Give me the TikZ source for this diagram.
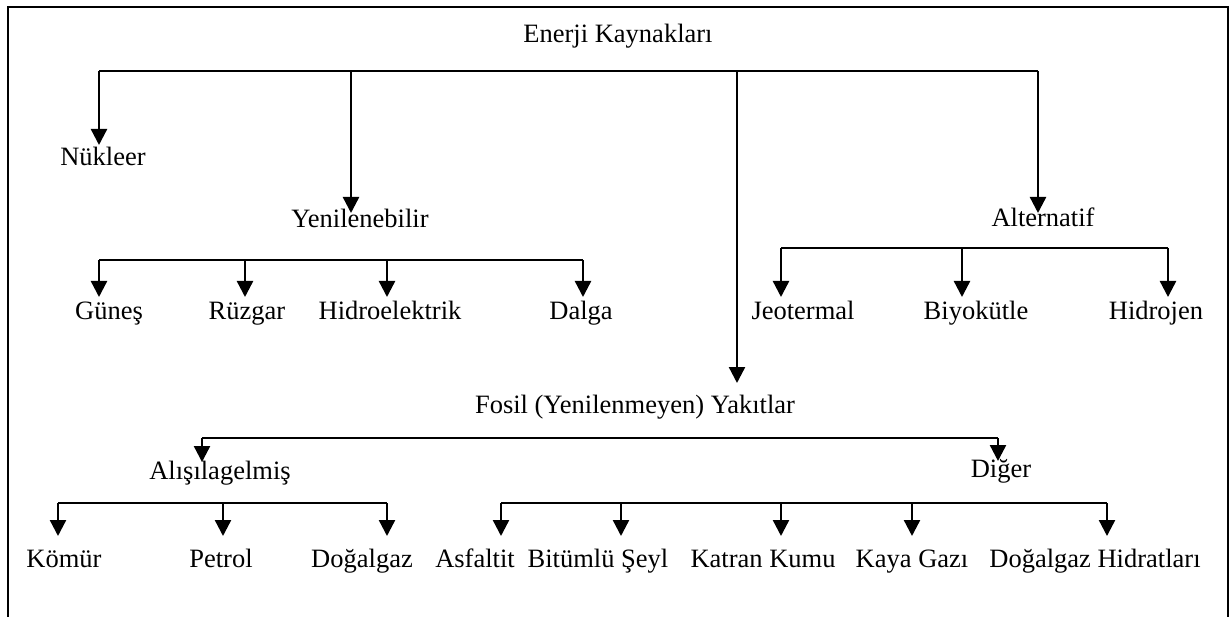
\documentclass[tikz,border=0pt]{standalone}
\usepackage{fontspec}
\setmainfont{Liberation Serif}
\usetikzlibrary{arrows.meta}
\begin{document}
\begin{tikzpicture}[x=1pt,y=-1pt,
  lbl/.style={anchor=base,inner sep=0pt,font=\fontsize{26.5}{30}\selectfont},
  link/.style={line width=2.4pt},
  arr/.style={line width=2.4pt,-{Triangle[length=16pt,width=16pt]}}]
\useasboundingbox (0,0) rectangle (1231,617);
% frame
\draw[line width=2.4pt] (8,617) -- (8,7) -- (1228,7) -- (1228,617);
% labels
\node[lbl] (root) at (618,43) {Enerji Kaynakları};
\node[lbl] (nuk) at (103,166) {Nükleer};
\node[lbl] (yen) at (360,228) {Yenilenebilir};
\node[lbl] (alt) at (1043,227) {Alternatif};
\node[lbl] (fos) at (635,413) {Fosil (Yenilenmeyen) Yakıtlar};
\node[lbl] (gun) at (109,320) {Güneş};
\node[lbl] (ruz) at (247,320) {Rüzgar};
\node[lbl] (hid) at (390,320) {Hidroelektrik};
\node[lbl] (dal) at (581,320) {Dalga};
\node[lbl] (jeo) at (803,320) {Jeotermal};
\node[lbl] (biy) at (976,320) {Biyokütle};
\node[lbl] (hij) at (1156,320) {Hidrojen};
\node[lbl] (ali) at (220,479) {Alışılagelmiş};
\node[lbl] (dig) at (1001,477) {Diğer};
\node[lbl] (kom) at (64,567) {Kömür};
\node[lbl] (pet) at (221,567) {Petrol};
\node[lbl] (dog) at (362,567) {Doğalgaz};
\node[lbl] (asf) at (475,567) {Asfaltit};
\node[lbl] (bit) at (598,567) {Bitümlü Şeyl};
\node[lbl] (kat) at (763,567) {Katran Kumu};
\node[lbl] (kay) at (912,567) {Kaya Gazı};
\node[lbl] (dgh) at (1095,567) {Doğalgaz Hidratları};
% bars
\coordinate (b1l) at (99,71);  \coordinate (b1r) at (1038,71);
\coordinate (b2l) at (99,260); \coordinate (b2r) at (583,260);
\coordinate (b3l) at (781,248); \coordinate (b3r) at (1168,248);
\coordinate (b4l) at (202,438); \coordinate (b4r) at (998,438);
\coordinate (b5l) at (58,503); \coordinate (b5r) at (387,503);
\coordinate (b6l) at (501,503); \coordinate (b6r) at (1107,503);
\foreach \b in {1,...,6} \draw[link] (b\b l) -- (b\b r);
% arrow tips
\coordinate (tnuk) at (99,145);
\coordinate (tyen) at (351,213);
\coordinate (tfos) at (737,383);
\coordinate (talt) at (1038,213);
\coordinate (tgun) at (99,297);
\coordinate (truz) at (245,297);
\coordinate (thid) at (387,297);
\coordinate (tdal) at (583,297);
\coordinate (tjeo) at (781,297);
\coordinate (tbiy) at (962,297);
\coordinate (thij) at (1168,297);
\coordinate (tali) at (202,462);
\coordinate (tdig) at (998,461);
\coordinate (tkom) at (58,536);
\coordinate (tpet) at (223,536);
\coordinate (tdog) at (387,536);
\coordinate (tasf) at (501,536);
\coordinate (tbit) at (621,536);
\coordinate (tkat) at (781,536);
\coordinate (tkay) at (912,536);
\coordinate (tdgh) at (1107,536);
\foreach \t in {nuk,yen,fos,alt} \draw[arr] (t\t |- b1l) -- (t\t);
\foreach \t in {gun,ruz,hid,dal} \draw[arr] (t\t |- b2l) -- (t\t);
\foreach \t in {jeo,biy,hij} \draw[arr] (t\t |- b3l) -- (t\t);
\foreach \t in {ali,dig} \draw[arr] (t\t |- b4l) -- (t\t);
\foreach \t in {kom,pet,dog} \draw[arr] (t\t |- b5l) -- (t\t);
\foreach \t in {asf,bit,kat,kay,dgh} \draw[arr] (t\t |- b6l) -- (t\t);
\end{tikzpicture}
\end{document}
